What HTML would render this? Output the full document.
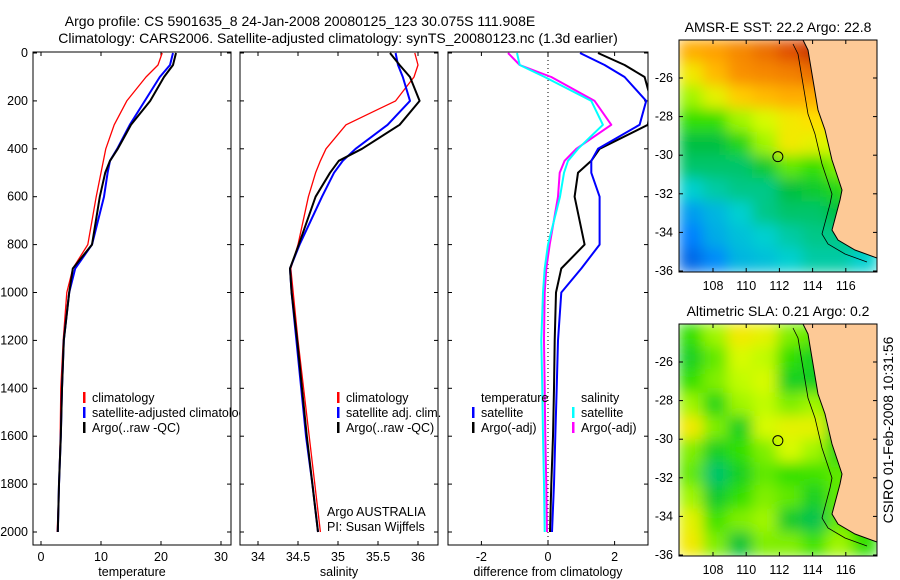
<!DOCTYPE html>
<html><head><meta charset="utf-8">
<style>
html,body{margin:0;padding:0;background:#fff;}
svg{display:block;font-family:"Liberation Sans",sans-serif;}
text{font-size:12.5px;fill:#000;}
.big{font-size:14px;}
</style></head>
<body>
<svg id="fig" width="900" height="580" viewBox="0 0 900 580">
<defs>
<filter id="blur" x="0" y="0" width="1" height="1"><feGaussianBlur stdDeviation="7"/></filter>
<clipPath id="c1"><rect x="33" y="52" width="198" height="493"/></clipPath>
<clipPath id="c2"><rect x="240" y="52" width="198" height="493"/></clipPath>
<clipPath id="c3"><rect x="448" y="52" width="200" height="493"/></clipPath>
<clipPath id="cl"><rect x="0" y="0" width="240" height="580"/></clipPath>
<clipPath id="m1"><rect x="679" y="40" width="198" height="232"/></clipPath>
<clipPath id="m2"><rect x="679" y="324" width="198" height="232"/></clipPath>
</defs>
<text class="big" x="300" y="26" text-anchor="middle">Argo profile: CS 5901635_8 24-Jan-2008 20080125_123 30.075S 111.908E</text>
<text class="big" x="338" y="43" text-anchor="middle">Climatology: CARS2006. Satellite-adjusted climatology: synTS_20080123.nc (1.3d earlier)</text>
<text class="big" transform="translate(893,430) rotate(-90)" text-anchor="middle">CSIRO 01-Feb-2008 10:31:56</text>
<g id="g"></g>
</svg>
<script>
// ---- data ----
const depths = [0,50,100,200,300,400,450,500,600,800,900,1000,1200,1400,1600,1800,2000];
const tempClim = [20.2,19.5,17.5,14.3,12.2,10.8,10.4,10.0,9.2,7.8,5.3,4.3,3.7,3.3,3.2,3.0,2.7];
const tempSat  = [22.0,21.5,19.8,17.3,14.8,12.7,11.5,11.1,10.5,8.5,5.7,4.7,3.8,3.5,3.3,3.0,2.8];
const tempArgo = [22.5,22.0,20.5,18.2,15.0,12.8,11.5,10.7,9.8,8.5,5.3,4.7,3.8,3.5,3.3,3.0,2.8];
const salClim = [35.96,36.0,35.95,35.72,35.1,34.85,34.78,34.72,34.63,34.5,34.41,34.44,34.5,34.57,34.64,34.71,34.78];
const salSat  = [35.72,35.75,35.81,35.9,35.62,35.22,35.06,34.95,34.8,34.52,34.4,34.42,34.48,34.54,34.6,34.68,34.75];
const salArgo = [35.65,35.77,35.9,36.02,35.77,35.3,35.01,34.9,34.72,34.51,34.4,34.42,34.49,34.55,34.61,34.68,34.75];
const dTempSat  = [0.96,1.7,2.3,2.95,2.75,1.5,1.3,1.3,1.55,1.55,1.0,0.4,0.3,0.26,0.22,0.18,0.12];
const dTempArgo = [1.5,2.3,2.9,3.1,3.0,1.55,1.3,0.9,0.8,1.1,0.4,0.24,0.2,0.18,0.15,0.1,0.06];
const dSalSat   = [-0.93,-0.85,-0.1,1.3,1.65,0.9,0.6,0.48,0.36,0,-0.1,-0.15,-0.2,-0.17,-0.15,-0.12,-0.1];
const dSalArgo  = [-1.2,-0.85,0.1,1.4,1.9,0.85,0.5,0.35,0.3,0.05,-0.05,-0.1,-0.12,-0.1,-0.08,-0.05,-0.03];
const depthTicks = [0,200,400,600,800,1000,1200,1400,1600,1800,2000];
const tempTicks = [0,10,20,30];
const salTicks = [34,34.5,35,35.5,36];
const diffTicks = [-2,0,2];
const lonTicks = [108,110,112,114,116];
const latTicks = [-26,-28,-30,-32,-34,-36];
const sstGrid = [
[.80,.82,.85,.88,.92,.95,.97,.99],
[.70,.78,.84,.85,.86,.88,.92,.98],
[.62,.68,.75,.78,.80,.80,.82,.90],
[.55,.55,.62,.66,.70,.72,.74,.72],
[.45,.45,.52,.62,.70,.68,.66,.68],
[.42,.42,.42,.48,.58,.55,.60,.66],
[.35,.38,.40,.40,.45,.48,.52,.62],
[.25,.30,.35,.40,.42,.42,.45,.55],
[.20,.28,.32,.35,.38,.40,.40,.42],
[.15,.22,.30,.32,.35,.38,.38,.35]];
const slaGrid = [
[.55,.62,.70,.68,.60,.58,.55,.55],
[.50,.58,.66,.64,.55,.50,.55,.55],
[.55,.60,.64,.66,.50,.50,.56,.55],
[.62,.52,.62,.64,.60,.62,.56,.55],
[.70,.60,.50,.66,.68,.68,.50,.55],
[.60,.50,.55,.60,.66,.62,.52,.55],
[.58,.42,.50,.58,.55,.56,.58,.55],
[.62,.48,.55,.60,.58,.50,.58,.55],
[.68,.56,.60,.62,.48,.44,.58,.55],
[.70,.60,.46,.60,.60,.56,.62,.55]];
// ---- drawing ----
const NS='http://www.w3.org/2000/svg';
const G=document.getElementById('g');
function mk(t,a,p){const e=document.createElementNS(NS,t);for(const k in a)e.setAttribute(k,a[k]);(p||G).appendChild(e);return e;}
const y=d=>53+d*0.2395;
function panel(x0,w,name){
  const r=mk('rect',{x:x0,y:52,width:w,height:493,fill:'none',stroke:'#000','stroke-width':1});
  
  
  depthTicks.forEach(d=>{mk('line',{x1:x0,x2:x0+4,y1:y(d),y2:y(d),stroke:'#000'});mk('line',{x1:x0+w-4,x2:x0+w,y1:y(d),y2:y(d),stroke:'#000'});});
}
function xt(x0,w,ticks,fx,label,name){
  ticks.forEach(v=>{const X=fx(v);mk('line',{x1:X,x2:X,y1:541,y2:545,stroke:'#000'});mk('line',{x1:X,x2:X,y1:52,y2:56,stroke:'#000'});
    const t=mk('text',{x:X,y:561,'text-anchor':'middle'});t.textContent=v;
    
    });
  const t=mk('text',{x:x0+w/2,y:576,'text-anchor':'middle'});t.textContent=label;
  
  
}
function line(vals,fx,col,sw,clip,name){
  const pts=vals.map((v,i)=>fx(v).toFixed(1)+','+y(depths[i]).toFixed(1)).join(' ');
  const p=mk('polyline',{points:pts,fill:'none',stroke:col,'stroke-width':sw,'stroke-linejoin':'round','clip-path':'url(#'+clip+')'});
  
  
}
function leg(x,yy,col,txt,name,clip){
  if(col)mk('rect',{x:x,y:yy-10,width:2.5,height:11,fill:col});
  const t=mk('text',{x:x+9,y:yy});t.textContent=txt;
  if(clip)t.setAttribute('clip-path','url(#'+clip+')');
  
  
}
// panel 1
const fT=v=>41+v*6;
panel(33,198,'temperature-panel');
depthTicks.forEach(d=>{const t=mk('text',{x:28,y:y(d)+4,'text-anchor':'end'});t.textContent=d;
  
  });
xt(33,198,tempTicks,fT,'temperature','temperature');
line(tempClim,fT,'#f00',1.3,'c1','temp-climatology-line');
line(tempSat,fT,'#00f',2,'c1','temp-satellite-line');
line(tempArgo,fT,'#000',2,'c1','temp-argo-line');
leg(83,402,'#f00','climatology','legend-climatology');
leg(83,417,'#00f','satellite-adjusted climatology','legend-satellite-adjusted','cl');
leg(83,432,'#000','Argo(..raw -QC)','legend-argo');
// panel 2
const fS=v=>258+(v-34)*80;
panel(240,198,'salinity-panel');
xt(240,198,salTicks,fS,'salinity','salinity');
line(salClim,fS,'#f00',1.3,'c2','sal-climatology-line');
line(salSat,fS,'#00f',2,'c2','sal-satellite-line');
line(salArgo,fS,'#000',2,'c2','sal-argo-line');
leg(337,402,'#f00','climatology','legend2-climatology');
leg(337,417,'#00f','satellite adj. clim.','legend2-satellite');
leg(337,432,'#000','Argo(..raw -QC)','legend2-argo');
leg(318,516,null,'Argo AUSTRALIA','argo-australia-label');
leg(318,531,null,'PI: Susan Wijffels','pi-label');
// panel 3
const fD=v=>548+v*33.3;
panel(448,200,'difference-panel');
xt(448,200,diffTicks,fD,'difference from climatology','difference');
mk('line',{x1:fD(0),x2:fD(0),y1:52,y2:545,stroke:'#000','stroke-dasharray':'1,3'});
line(dSalArgo,fD,'#f0f',2,'c3','dsal-argo-line');
line(dSalSat,fD,'#0ff',2,'c3','dsal-satellite-line');
line(dTempArgo,fD,'#000',2,'c3','dtemp-argo-line');
line(dTempSat,fD,'#00f',2,'c3','dtemp-satellite-line');
leg(472,402,null,'temperature','legend3-temperature');
leg(472,417,'#00f','satellite','legend3-temp-satellite');
leg(472,432,'#000','Argo(-adj)','legend3-temp-argo');
leg(572,402,null,'salinity','legend3-salinity');
leg(572,417,'#0ff','satellite','legend3-sal-satellite');
leg(572,432,'#f0f','Argo(-adj)','legend3-sal-argo');
// maps
const stops=[[0,[0,32,160]],[.2,[0,128,255]],[.35,[0,208,208]],[.45,[0,192,64]],[.55,[48,224,0]],[.65,[208,255,0]],[.72,[255,224,0]],[.82,[255,160,0]],[.92,[224,80,0]],[1,[160,0,0]]];
function cmap(v){for(let i=1;i<stops.length;i++){if(v<=stops[i][0]){const a=stops[i-1],b=stops[i],f=(v-a[0])/(b[0]-a[0]);return 'rgb('+a[1].map((c,k)=>Math.round(c+(b[1][k]-c)*f)).join(',')+')';}}return 'rgb(160,0,0)';}
const coast=[[803,0],[808,10],[813,40],[818,70],[825,90],[832,120],[842,150],[840,160],[836,175],[832,190],[838,200],[855,210],[877,218]];
function map(top,grid,title,clip,name){
  const g=mk('g',{'clip-path':'url(#'+clip+')'});
  
  
  const inner=mk('g',{filter:'url(#blur)'},g);
  const cw=198/grid[0].length,ch=232/grid.length;
  grid.forEach((row,r)=>row.forEach((v,c)=>{mk('rect',{x:679+c*cw-1,y:top+r*ch-1,width:cw+2,height:ch+2,fill:cmap(v)},inner);}));
  const lp=coast.map(p=>p[0]+','+(top+p[1])).join(' ');
  mk('polygon',{points:lp+' 877,'+(top+232)+' 877,'+top,fill:'#fdc996'},g);
  mk('polyline',{points:lp,fill:'none',stroke:'#000','stroke-width':1},g);
  mk('polyline',{points:coast.map(p=>(p[0]-10)+','+(top+p[1]+4)).join(' '),fill:'none',stroke:'#000','stroke-width':0.8},g);
  mk('rect',{x:679,y:top,width:198,height:232,fill:'none',stroke:'#000'});
  const fx=v=>713+(v-108)*16.6, fy=v=>top+38+(-26-v)*19.3;
  lonTicks.forEach(v=>{const X=fx(v);mk('line',{x1:X,x2:X,y1:top+232,y2:top+228,stroke:'#000'});mk('line',{x1:X,x2:X,y1:top,y2:top+4,stroke:'#000'});
    const t=mk('text',{x:X,y:top+250,'text-anchor':'middle'});t.textContent=v;
    
    });
  latTicks.forEach(v=>{const Y=fy(v);mk('line',{x1:679,x2:683,y1:Y,y2:Y,stroke:'#000'});mk('line',{x1:873,x2:877,y1:Y,y2:Y,stroke:'#000'});
    const t=mk('text',{x:673,y:Y+4,'text-anchor':'end'});t.textContent=v;
    
    });
  const c=mk('circle',{cx:fx(111.908),cy:fy(-30.075),r:5,fill:'none',stroke:'#000'});
  
  
  const t=mk('text',{x:778,y:top-8,'text-anchor':'middle','class':'big'});t.textContent=title;
  
  
}
map(40,sstGrid,'AMSR-E SST: 22.2 Argo: 22.8','m1','sst-map');
map(324,slaGrid,'Altimetric SLA: 0.21 Argo: 0.2','m2','sla-map');
</script>
</body></html>
